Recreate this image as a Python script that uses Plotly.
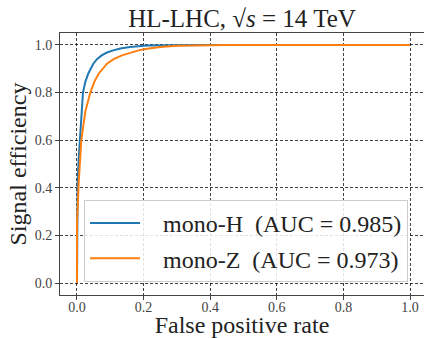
import plotly.graph_objects as go

# ROC curves (false positive rate, signal efficiency)
fpr_mono_h = [0.0, 0.0, 0.002, 0.005, 0.009, 0.013, 0.018, 0.025, 0.034, 0.049, 0.06,
              0.074, 0.09, 0.109, 0.13, 0.159, 0.21, 0.3, 0.4, 1.0]
tpr_mono_h = [0.0, 0.3, 0.42, 0.52, 0.6, 0.7, 0.8, 0.845, 0.88, 0.921, 0.94,
              0.956, 0.968, 0.977, 0.985, 0.991, 0.997, 0.999, 1.0, 1.0]

fpr_mono_z = [0.0, 0.0, 0.005, 0.009, 0.013, 0.025, 0.04, 0.052, 0.065, 0.09, 0.11,
              0.135, 0.16, 0.185, 0.21, 0.25, 0.3, 0.37, 0.45, 1.0]
tpr_mono_z = [0.0, 0.25, 0.42, 0.52, 0.6, 0.72, 0.8, 0.845, 0.879, 0.921, 0.94,
              0.956, 0.968, 0.977, 0.984, 0.991, 0.996, 0.999, 1.0, 1.0]

labels = ["mono-H  (AUC = 0.985)", "mono-Z  (AUC = 0.973)"]
colors = ["#1f77b4", "#ff7f0e"]
tick_vals = [0.0, 0.2, 0.4, 0.6, 0.8, 1.0]
tick_text = ["0.0", "0.2", "0.4", "0.6", "0.8", "1.0"]

FONT = "Liberation Serif"
PAD = "\u00a0\u00a0\u00a0"

fig = go.Figure()
for i, (xs, ys, name, c) in enumerate(zip([fpr_mono_h, fpr_mono_z], [tpr_mono_h, tpr_mono_z],
                                          labels, colors)):
    fig.add_trace(go.Scatter(x=xs, y=ys, mode="lines", name=PAD + name.replace("  ", "\u00a0\u00a0"),
                             legendgroup=f"g{i}", line=dict(color=c, width=2)))

axis_common = dict(
    tickvals=tick_vals, ticktext=tick_text,
    showgrid=True, gridcolor="rgba(0,0,0,0.75)", gridwidth=0.8, griddash="3px,2px",
    zeroline=False, showline=True, linecolor="#444", linewidth=1,
    ticks="outside", ticklen=4, tickwidth=0.8, tickcolor="#444",
    tickfont=dict(family=FONT, size=14, color="#444"),
)

fig.update_layout(
    width=424, height=338,
    margin=dict(l=60, r=0, t=33, b=43),
    paper_bgcolor="white", plot_bgcolor="white",
    title=dict(text="HL-LHC, √<i>s</i> = 14 TeV", x=0.5, xref="paper", xanchor="center",
               y=1 - 18 / 338, yanchor="middle",
               font=dict(family=FONT, size=25, color="#222")),
    xaxis=dict(range=[-0.051, 1.042], mirror=True, ticklabelstandoff=-5,
               title=dict(text="False positive rate", standoff=6,
                          font=dict(family=FONT, size=24, color="#222")),
               **axis_common),
    yaxis=dict(range=[-0.05, 1.05], mirror=False,
               title=dict(text="Signal efficiency", standoff=1,
                          font=dict(family=FONT, size=24, color="#222")),
               **axis_common),
    legend=dict(x=0.066, y=0.05, xanchor="left", yanchor="bottom",
                bgcolor="rgba(255,255,255,0.85)", bordercolor="#cccccc", borderwidth=1,
                font=dict(family=FONT, size=24, color="#222"),
                itemwidth=50, tracegroupgap=1),
    showlegend=True,
)

fig.write_html("out.html")
